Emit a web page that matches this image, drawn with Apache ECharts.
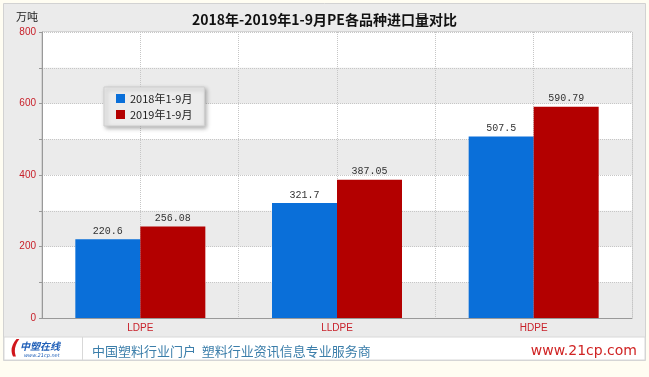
<!DOCTYPE html>
<html>
<head>
<meta charset="utf-8">
<script src="https://cdn.jsdelivr.net/npm/echarts@6/dist/echarts.min.js"></script>
<style>
  html, body { margin: 0; padding: 0; background: #fffdf2; }
  #main { width: 649px; height: 377px; }
</style>
</head>
<body>
<div id="main"></div>
<script>
// 数据
var categories = ['LDPE', 'LLDPE', 'HDPE']
var data2018 = [220.6, 321.7, 507.5]
var data2019 = [256.08, 387.05, 590.79]
var seriesNames = ['2018年1-9月', '2019年1-9月']
var yTicks = [0, 200, 400, 600, 800]

var myChart = echarts.init(document.getElementById('main'))
var labelRed = '#c8202a'
var labelFont = 'Liberation Mono'

var option = {
    backgroundColor: '#fffdf2',
    animation: false,
    graphic: [
        // 外框
        { type: 'rect', z: -10, shape: { x: 3.5, y: 3.5, width: 642, height: 357 },
          style: { fill: '#ebebeb', stroke: '#d2d2d2', lineWidth: 1 } },
        // 底部白条
        { type: 'rect', z: -9, shape: { x: 4, y: 337, width: 641, height: 23 },
          style: { fill: '#ffffff', stroke: '#d8d8d8', lineWidth: 1 } },
        { type: 'line', z: -8, shape: { x1: 82.5, y1: 337, x2: 82.5, y2: 360 },
          style: { stroke: '#d8d8d8', lineWidth: 1 } },
        // logo
        { type: 'text', left: 10, top: 339, style: { text: '(', fill: '#d0161c', font: 'italic bold 20px "DejaVu Sans"' } },
        { type: 'text', left: 20, top: 341, style: { text: '中塑在线', fill: '#1f5fb8', font: 'italic bold 10px "Noto Sans CJK SC"' } },
        { type: 'text', left: 24, top: 353, style: { text: 'www.21cp.net', fill: '#1f5fb8', font: 'italic 5px "DejaVu Sans"' } },
        // 底部文字
        { type: 'text', left: 92, top: 345, style: { text: '中国塑料行业门户  塑料行业资讯信息专业服务商', fill: '#3b7eaa', font: '13px "Noto Sans CJK SC"' } },
        { type: 'text', right: 12, top: 344, style: { text: 'www.21cp.com', fill: '#d02424', font: '14px "DejaVu Sans"' } },
        // 单位
        { type: 'text', left: 16, top: 11, style: { text: '万吨', fill: '#222', font: '11px "Noto Sans CJK SC"' } }
    ],
    title: {
        text: '2018年-2019年1-9月PE各品种进口量对比',
        left: 'center',
        top: 8,
        textStyle: { fontSize: 14, fontWeight: 'bold', color: '#111', fontFamily: 'Noto Sans CJK SC' }
    },
    legend: {
        orient: 'vertical',
        left: 104,
        top: 87,
        data: seriesNames,
        icon: 'rect',
        itemWidth: 9,
        itemHeight: 9,
        itemGap: 5,
        padding: [6, 12, 6, 12],
        backgroundColor: '#ececec',
        borderColor: '#cfcfcf',
        borderWidth: 1,
        shadowColor: 'rgba(0,0,0,0.3)',
        shadowBlur: 4,
        shadowOffsetX: 2,
        shadowOffsetY: 2,
        textStyle: { fontSize: 11, color: '#222', fontFamily: 'Noto Sans CJK SC' }
    },
    grid: {
        left: 42,
        right: 17,
        top: 32,
        bottom: 59,
        show: true,
        borderColor: '#bdbdbd',
        borderWidth: 1
    },
    xAxis: [
        {
            type: 'category',
            data: categories,
            axisLine: { show: true, lineStyle: { color: '#999' } },
            axisTick: { show: false },
            axisLabel: { color: labelRed, fontSize: 10, margin: 5 },
            splitLine: { show: false }
        },
        {
            type: 'value',
            min: 0,
            max: 6,
            interval: 1,
            position: 'bottom',
            axisLine: { show: false },
            axisTick: { show: false },
            axisLabel: { show: false },
            splitLine: { show: true, lineStyle: { color: '#c6c6c6', type: 'dotted' } }
        }
    ],
    yAxis: {
        type: 'value',
        min: 0,
        max: 800,
        interval: 100,
        axisLine: { show: true, lineStyle: { color: '#999' } },
        axisTick: { show: true, length: 3, lineStyle: { color: '#999' } },
        axisLabel: {
            color: labelRed,
            fontSize: 10,
            margin: 6,
            formatter: function (v) { return yTicks.indexOf(v) > -1 ? v : '' }
        },
        splitLine: { show: true, lineStyle: { color: '#c6c6c6', type: 'dotted' } },
        splitArea: { show: true, areaStyle: { color: ['#ebebeb', '#ffffff'] } }
    },
    series: [
        {
            name: seriesNames[0],
            type: 'bar',
            barWidth: 65,
            barGap: '0%',
            itemStyle: { color: '#0a6fd9' },
            label: { show: true, position: 'top', color: '#333', fontSize: 10, fontFamily: labelFont, distance: 3 },
            data: data2018
        },
        {
            name: seriesNames[1],
            type: 'bar',
            barWidth: 65,
            itemStyle: { color: '#b30000' },
            label: { show: true, position: 'top', color: '#333', fontSize: 10, fontFamily: labelFont, distance: 3 },
            data: data2019
        }
    ]
}
myChart.setOption(option)
</script>
</body>
</html>
